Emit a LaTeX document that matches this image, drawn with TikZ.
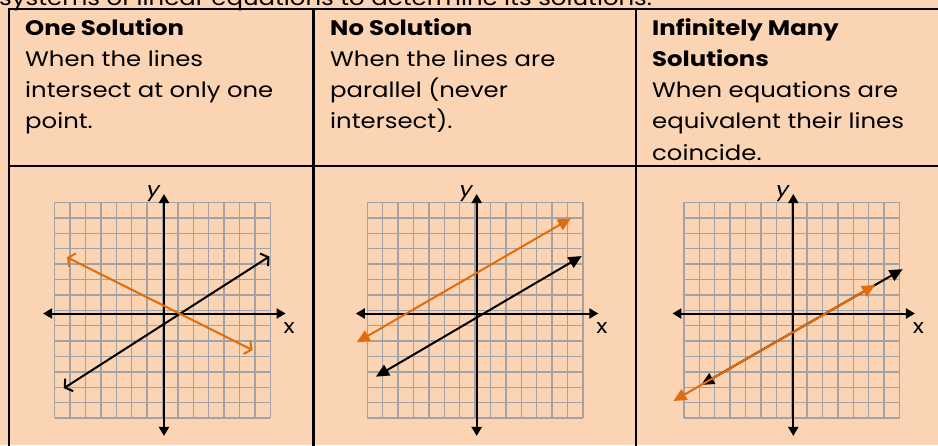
\documentclass[tikz,border=0pt]{standalone}
\usepackage{fontspec}
\setmainfont{Poppins}[FakeStretch=1.16]
\usetikzlibrary{arrows.meta}
\definecolor{peach}{HTML}{FBD4B4}
\definecolor{lineorange}{HTML}{E36C0A}
\definecolor{gridgray}{HTML}{A3A3A3}
\tikzset{
  txt/.style={anchor=base west, inner sep=0pt, font=\fontsize{21}{24}\selectfont},
  head/.style={anchor=base west, inner sep=0pt, font=\fontsize{21}{24}\selectfont\bfseries},
  tablerule/.style={line width=2.2pt, line cap=rect},
  gridline/.style={gridgray, line width=1.4pt},
  axisline/.style={line width=2pt, {Triangle[length=9pt,width=10pt]}-{Triangle[length=9pt,width=10pt]}},
  openline/.style={line width=2pt, {Straight Barb[length=5pt,width=15pt]}-{Straight Barb[length=5pt,width=15pt]}},
  solidline/.style={line width=2pt, {Triangle[length=13pt,width=12pt]}-{Triangle[length=13pt,width=12pt]}},
  axlabel/.style={inner sep=0pt, font=\fontsize{20}{24}\selectfont},
}
\newcommand\coordplane[1]{%
  \draw[gridline, shift={(-0.1,0.21)}, step=1] (-7,-7) grid (7,7);
  \coordinate (#1xl) at (-7.85,0);
  \coordinate (#1xr) at (7.9,0);
  \coordinate (#1yb) at (0,-7.95);
  \coordinate (#1yt) at (0,7.76);
  \draw[axisline] (#1xl) -- (#1xr);
  \draw[axisline] (#1yb) -- (#1yt);
  \node[axlabel, anchor=base east] (#1ylab) at (-0.25,7.58) {\itshape y};
  \node[axlabel, anchor=base west] (#1xlab) at (7.75,-1.29) {x};
}
\begin{document}
\begin{tikzpicture}[x=1pt, y=-1pt]
  \useasboundingbox (0,0) rectangle (938,445);
  \fill[peach] (0,0) rectangle (938,445);

  % intro line (cut off at top)
  \node[txt] (intro) at (-1,5.5) {systems of linear equations to determine its solutions.};

  % table rules
  \draw[tablerule] (9,450) -- (9,9) -- (945,9);
  \draw[tablerule] (313.5,9) -- (313.5,450);
  \draw[tablerule] (636,9) -- (636,450);
  \draw[tablerule] (9,166) -- (945,166);

  % column 1 text
  \node[head] (h1) at (25,35) {One Solution};
  \node[txt] (a1) at (25,66.3) {When the lines};
  \node[txt] (a2) at (25,97.6) {intersect at only one};
  \node[txt] (a3) at (25,128.9) {point.};

  % column 2 text
  \node[head] (h2) at (330,35) {No Solution};
  \node[txt] (b1) at (330,66.3) {When the lines are};
  \node[txt] (b2) at (330,97.6) {parallel (never};
  \node[txt] (b3) at (330,128.9) {intersect).};

  % column 3 text
  \node[head] (h3) at (652,35) {Infinitely Many};
  \node[head] (h3b) at (652,66.3) {Solutions};
  \node[txt] (c1) at (652,97.6) {When equations are};
  \node[txt] (c2) at (652,128.9) {equivalent their lines};
  \node[txt] (c3) at (652,160.2) {coincide.};

  % graph 1
  \begin{scope}[shift={(164pt,-313.5pt)}, x=15.4pt, y=15.4pt]
    \coordplane{p}
    \coordinate (pb1) at (-6.5,-4.85);
    \coordinate (pb2) at (6.84,3.7);
    \coordinate (po1) at (-6.3,3.65);
    \coordinate (po2) at (5.75,-2.375);
    \draw[openline] (pb1) -- (pb2);
    \draw[openline, lineorange] (po1) -- (po2);
  \end{scope}

  % graph 2
  \begin{scope}[shift={(476.7pt,-313.5pt)}, x=15.4pt, y=15.4pt]
    \coordplane{q}
    \coordinate (qb1) at (-6.54,-4.1);
    \coordinate (qb2) at (6.82,3.73);
    \coordinate (qo1) at (-7.79,-1.87);
    \coordinate (qo2) at (6.12,6.18);
    \draw[solidline] (qb1) -- (qb2);
    \draw[solidline, lineorange] (qo1) -- (qo2);
  \end{scope}

  % graph 3
  \begin{scope}[shift={(793.3pt,-313.5pt)}, x=15.4pt, y=15.4pt]
    \coordplane{r}
    \coordinate (rb1) at (-5.99,-4.64);
    \coordinate (rb2) at (7.1,2.88);
    \coordinate (ro1) at (-7.79,-5.68);
    \coordinate (ro2) at (5.31,1.85);
    \draw[solidline] (rb1) -- (rb2);
    \draw[solidline, lineorange] (ro1) -- (ro2);
  \end{scope}
\end{tikzpicture}
\end{document}
